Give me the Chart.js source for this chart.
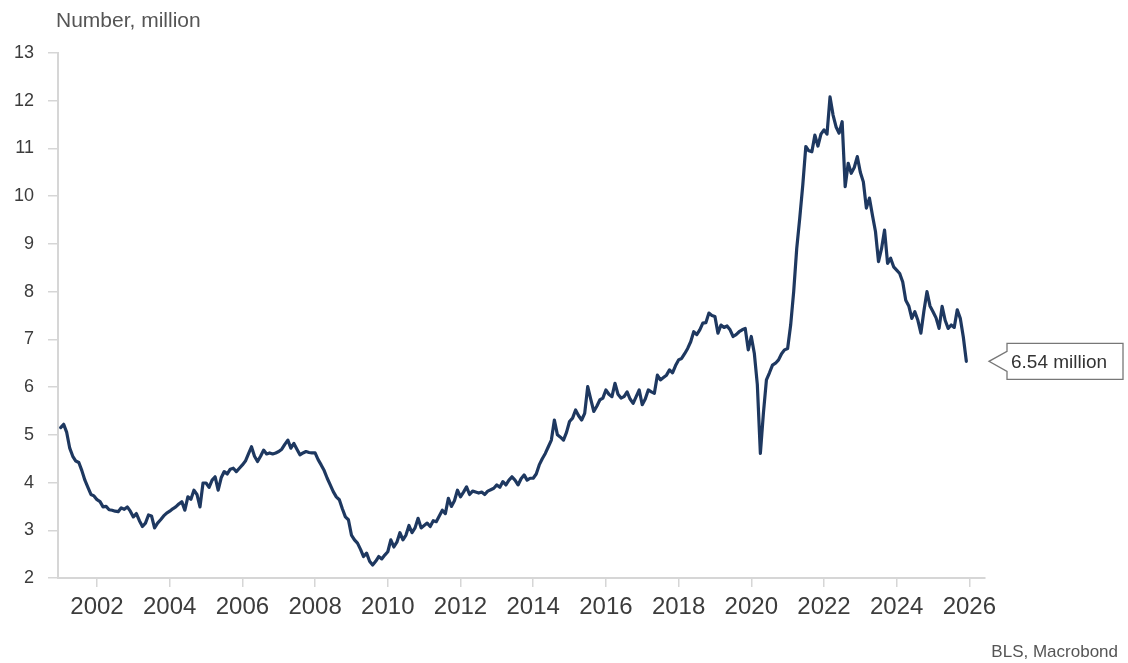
<!DOCTYPE html>
<html>
<head>
<meta charset="utf-8">
<script src="https://cdn.jsdelivr.net/npm/chart.js"></script>
<style>
  html, body { margin: 0; padding: 0; background: #fff; }
  #wrap { width: 1128px; height: 663px; position: relative; }
</style>
</head>
<body>
<div id="wrap"><canvas id="chart" width="1128" height="663"></canvas></div>
<script>
/* Job openings, monthly, million — Jan 2001 .. Dec 2025 */
const startYear = 2001;
const y2001 = [5.15, 5.22, 5.05, 4.72, 4.55, 4.45, 4.42, 4.25, 4.05, 3.90, 3.75, 3.72];
const y2002 = [3.64, 3.60, 3.49, 3.50, 3.43, 3.42, 3.40, 3.39, 3.47, 3.44, 3.49, 3.40];
const y2003 = [3.28, 3.35, 3.20, 3.08, 3.15, 3.32, 3.30, 3.05, 3.15, 3.22, 3.30, 3.36];
const y2004 = [3.40, 3.45, 3.49, 3.55, 3.60, 3.42, 3.70, 3.65, 3.84, 3.75, 3.49, 3.99];
const y2005 = [3.99, 3.90, 4.05, 4.12, 3.84, 4.10, 4.23, 4.18, 4.28, 4.30, 4.23, 4.30];
const y2006 = [4.37, 4.45, 4.60, 4.75, 4.55, 4.44, 4.55, 4.68, 4.60, 4.62, 4.60, 4.62];
const y2007 = [4.65, 4.70, 4.80, 4.89, 4.72, 4.82, 4.70, 4.58, 4.62, 4.65, 4.63, 4.62];
const y2008 = [4.62, 4.48, 4.37, 4.25, 4.09, 3.95, 3.81, 3.70, 3.64, 3.45, 3.28, 3.22];
const y2009 = [2.90, 2.80, 2.73, 2.60, 2.45, 2.52, 2.35, 2.27, 2.35, 2.45, 2.40, 2.48];
const y2010 = [2.55, 2.80, 2.65, 2.75, 2.95, 2.80, 2.90, 3.10, 2.95, 3.05, 3.25, 3.05];
const y2011 = [3.10, 3.15, 3.08, 3.20, 3.18, 3.30, 3.42, 3.35, 3.67, 3.50, 3.62, 3.84];
const y2012 = [3.70, 3.80, 3.91, 3.75, 3.82, 3.80, 3.78, 3.80, 3.75, 3.82, 3.85, 3.88];
const y2013 = [3.95, 3.90, 4.02, 3.95, 4.05, 4.12, 4.05, 3.95, 4.08, 4.16, 4.05, 4.09];
const y2014 = [4.09, 4.18, 4.37, 4.50, 4.61, 4.75, 4.89, 5.31, 5.00, 4.95, 4.89, 5.05];
const y2015 = [5.28, 5.35, 5.52, 5.40, 5.31, 5.45, 6.01, 5.75, 5.49, 5.60, 5.73, 5.77];
const y2016 = [5.94, 5.85, 5.80, 6.08, 5.85, 5.77, 5.80, 5.90, 5.75, 5.66, 5.80, 5.94];
const y2017 = [5.63, 5.75, 5.94, 5.90, 5.87, 6.25, 6.15, 6.20, 6.25, 6.36, 6.30, 6.45];
const y2018 = [6.57, 6.60, 6.70, 6.81, 6.95, 7.16, 7.10, 7.20, 7.34, 7.35, 7.55, 7.50];
const y2019 = [7.48, 7.13, 7.30, 7.25, 7.28, 7.20, 7.06, 7.10, 7.16, 7.20, 7.23, 6.78];
const y2020 = [7.06, 6.71, 6.05, 4.61, 5.45, 6.15, 6.30, 6.46, 6.50, 6.57, 6.70, 6.78];
const y2021 = [6.81, 7.30, 8.00, 8.90, 9.54, 10.23, 11.04, 10.95, 10.93, 11.28, 11.05, 11.30];
const y2022 = [11.39, 11.30, 12.08, 11.70, 11.45, 11.32, 11.56, 10.20, 10.69, 10.48, 10.60, 10.83];
const y2023 = [10.50, 10.30, 9.75, 9.96, 9.60, 9.26, 8.63, 8.90, 9.29, 8.59, 8.70, 8.52];
const y2024 = [8.45, 8.38, 8.20, 7.82, 7.70, 7.44, 7.58, 7.40, 7.13, 7.60, 8.00, 7.70];
const y2025 = [7.58, 7.45, 7.23, 7.69, 7.40, 7.23, 7.30, 7.25, 7.62, 7.44, 7.05, 6.54];

const yTicks = [2, 3, 4, 5, 6, 7, 8, 9, 10, 11, 12, 13];
const xTickYears = [2002, 2004, 2006, 2008, 2010, 2012, 2014, 2016, 2018, 2020, 2022, 2024, 2026];

const unitLabel = 'Number, million';
const sourceLabel = 'BLS, Macrobond';

const FONT = "'Liberation Sans', Arial, sans-serif";
const LINE = '#1e3860';
const AXIS = '#d6d6d6';
const TXT = '#3c3c3c';

const values = [].concat(y2001, y2002, y2003, y2004, y2005, y2006, y2007, y2008, y2009,
    y2010, y2011, y2012, y2013, y2014, y2015, y2016, y2017, y2018, y2019, y2020,
    y2021, y2022, y2023, y2024, y2025);
const points = values.map((v, i) => ({ x: startYear + i / 12, y: v }));

/* ── text + end label ─────────────────────────── */
const extrasPlugin = {
    id: 'extras',
    afterDraw(ch) {
        const { ctx, chartArea: area, scales: { y } } = ch;
        ctx.save();
        ctx.fillStyle = '#555';
        ctx.font = `21px ${FONT}`;
        ctx.textBaseline = 'middle';
        ctx.textAlign = 'left';
        ctx.fillText(unitLabel, 56, 21);

        ctx.font = `17px ${FONT}`;
        ctx.textAlign = 'right';
        ctx.fillText(sourceLabel, 1118, 652);

        /* last value callout */
        const last = values[values.length - 1];
        const py = y.getPixelForValue(last);
        const tipX = area.right + 4;
        const bx = tipX + 18, bw = 116, bh = 36;
        ctx.strokeStyle = '#777';
        ctx.lineWidth = 1.3;
        ctx.fillStyle = '#fff';
        ctx.beginPath();
        ctx.moveTo(bx, py - bh / 2);
        ctx.lineTo(bx + bw, py - bh / 2);
        ctx.lineTo(bx + bw, py + bh / 2);
        ctx.lineTo(bx, py + bh / 2);
        ctx.lineTo(bx, py + 10);
        ctx.lineTo(tipX, py);
        ctx.lineTo(bx, py - 10);
        ctx.closePath();
        ctx.fill();
        ctx.stroke();
        ctx.fillStyle = '#333';
        ctx.font = `19px ${FONT}`;
        ctx.textAlign = 'left';
        ctx.fillText(`${last.toFixed(2)} million`, bx + 4, py + 1);
        ctx.restore();
    }
};

new Chart(document.getElementById('chart'), {
    type: 'line',
    data: {
        datasets: [{
            data: points,
            borderColor: LINE,
            borderWidth: 3.2,
            borderJoinStyle: 'round',
            borderCapStyle: 'round',
            pointRadius: 0,
            tension: 0,
            fill: false
        }]
    },
    options: {
        responsive: false,
        animation: false,
        devicePixelRatio: 1,
        layout: { padding: { top: 53, right: 143, bottom: 0, left: 0 } },
        plugins: { legend: { display: false }, tooltip: { enabled: false } },
        scales: {
            x: {
                type: 'linear',
                min: 2000.927,
                max: 2026.43,
                afterBuildTicks: s => { s.ticks = xTickYears.map(v => ({ value: v })); },
                afterFit: s => { s.height = 85; },
                grid: { drawOnChartArea: false, drawTicks: true, tickLength: 9, color: AXIS, lineWidth: 1.5 },
                border: { color: AXIS, width: 2 },
                ticks: {
                    autoSkip: false, maxRotation: 0, padding: 6,
                    color: TXT, font: { family: FONT, size: 24 },
                    callback: v => String(v)
                }
            },
            y: {
                min: 2,
                max: 13,
                afterBuildTicks: s => { s.ticks = yTicks.map(v => ({ value: v })); },
                afterFit: s => { s.width = 58; },
                grid: { drawOnChartArea: false, drawTicks: true, tickLength: 10, color: AXIS, lineWidth: 1.5 },
                border: { color: AXIS, width: 2 },
                ticks: {
                    padding: 14,
                    color: TXT, font: { family: FONT, size: 18 },
                    callback: v => String(v)
                }
            }
        }
    },
    plugins: [extrasPlugin]
});
</script>
</body>
</html>
